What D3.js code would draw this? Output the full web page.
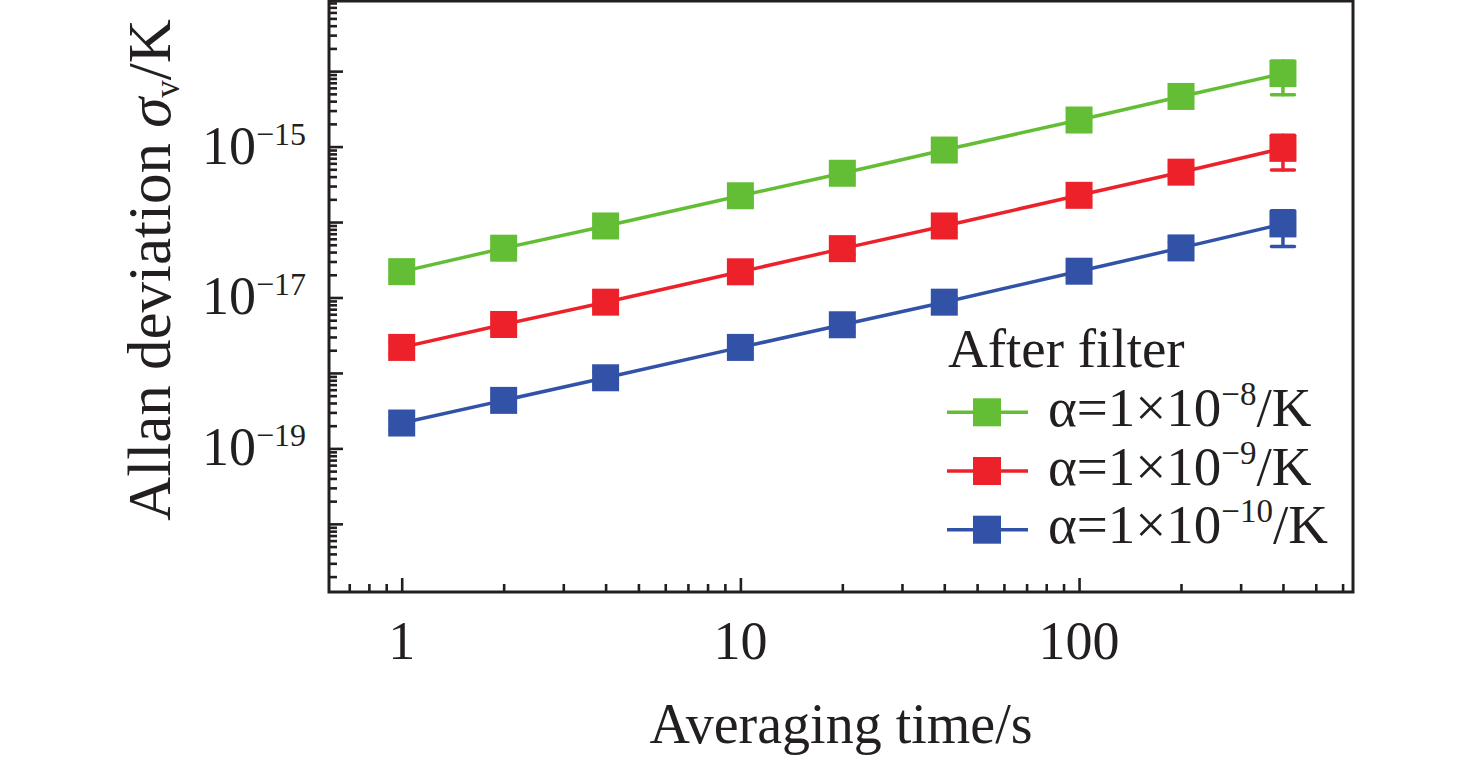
<!DOCTYPE html>
<html>
<head>
<meta charset="utf-8">
<script src="https://cdn.jsdelivr.net/npm/d3@7"></script>
<style>
body { margin: 0; background: #fff; }
text { font-family: "Liberation Serif", "Times New Roman", serif; fill: #231f20; }
</style>
</head>
<body>
<script>
// data
var tau = [1, 2, 4, 10, 20, 40, 100, 200, 400];

var green = [2.20e-17, 4.50e-17, 8.87e-17, 2.23e-16, 4.43e-16, 9.00e-16, 2.25e-15, 4.62e-15, 9.27e-15];
var red   = [2.18e-18, 4.39e-18, 8.67e-18, 2.19e-17, 4.44e-17, 8.87e-17, 2.26e-16, 4.58e-16, 9.48e-16];
var blue  = [2.17e-19, 4.33e-19, 8.63e-19, 2.18e-18, 4.35e-18, 8.67e-18, 2.23e-17, 4.54e-17, 9.44e-17];

var greenErr = [4.0e-18, 8.0e-18, 1.6e-17, 4.0e-17, 8.0e-17, 1.6e-16, 4.0e-16, 8.5e-16, 4.4e-15];
var redErr   = [4.0e-19, 8.0e-19, 1.6e-18, 4.0e-18, 8.0e-18, 1.6e-17, 4.0e-17, 8.5e-17, 4.6e-16];
var blueErr  = [4.0e-20, 8.0e-20, 1.6e-19, 4.0e-19, 8.0e-19, 1.6e-18, 4.0e-18, 8.5e-18, 4.7e-17];

var legendTitle = "After filter";
var legendExp = ["\u22128", "\u22129", "\u221210"];
var colors = ["#63be35", "#ec2129", "#3152a6"];

var xTickLabels = [1, 10, 100];
var yLabelExp = [-19, -17, -15];

// set up svg
var W = 1476, H = 760;
var pLeft = 329, pRight = 1353, pTop = 1, pBottom = 592;

var svg = d3.select("body")
  .append("svg")
  .attr("width", W)
  .attr("height", H);

var x = d3.scaleLog().domain([0.61, 644]).range([pLeft, pRight]);
var y = d3.scaleLog().domain([1.25e-21, 8.5e-14]).range([pBottom, pTop]);

// tick values
var xMajor = [1, 10, 100];
var xMinor = [];
[0.1, 1, 10, 100].forEach(function(d) {
  for (var k = 2; k <= 9; k++) {
    var v = d * k;
    if (v > 0.61 && v < 644) xMinor.push(v);
  }
});
var yMajor = [], yMinor = [];
for (var e = -21; e <= -14; e++) {
  var b = Math.pow(10, e);
  if (b >= 1.25e-21 && b <= 8.5e-14) yMajor.push(b);
  for (var k = 2; k <= 9; k++) {
    var v = k * b;
    if (v > 1.25e-21 && v < 8.5e-14) yMinor.push(v);
  }
}

function styleAxis(g) {
  g.select(".domain").remove();
  g.selectAll("line").attr("stroke", "#231f20").attr("stroke-width", 2.6);
  g.selectAll("text").remove();
}

svg.append("g")
  .attr("transform", "translate(0," + pBottom + ")")
  .call(d3.axisBottom(x).tickValues(xMajor).tickSize(-14))
  .call(styleAxis);
svg.append("g")
  .attr("transform", "translate(0," + pBottom + ")")
  .call(d3.axisBottom(x).tickValues(xMinor).tickSize(-8))
  .call(styleAxis);
svg.append("g")
  .attr("transform", "translate(" + pLeft + ",0)")
  .call(d3.axisLeft(y).tickValues(yMajor).tickSize(-14))
  .call(styleAxis);
svg.append("g")
  .attr("transform", "translate(" + pLeft + ",0)")
  .call(d3.axisLeft(y).tickValues(yMinor).tickSize(-8))
  .call(styleAxis);

// frame
svg.append("rect")
  .attr("x", pLeft)
  .attr("y", pTop)
  .attr("width", pRight - pLeft)
  .attr("height", pBottom - pTop)
  .attr("fill", "none")
  .attr("stroke", "#231f20")
  .attr("stroke-width", 3);

// tick labels
svg.selectAll(".xlab")
  .data(xTickLabels)
  .enter()
  .append("text")
  .attr("class", "xlab")
  .attr("x", function(d) { return x(d); })
  .attr("y", 659)
  .attr("text-anchor", "middle")
  .attr("font-size", 54)
  .text(function(d) { return d; });

var ylab = svg.selectAll(".ylab")
  .data(yLabelExp)
  .enter()
  .append("text")
  .attr("class", "ylab")
  .attr("x", 306)
  .attr("y", function(d) { return y(Math.pow(10, d)) + 17; })
  .attr("text-anchor", "end")
  .attr("font-size", 54);
ylab.append("tspan").text("10");
ylab.append("tspan")
  .attr("dy", -19)
  .attr("font-size", 32)
  .text(function(d) { return "\u2212" + Math.abs(d); });

// axis titles
svg.append("text")
  .attr("x", (pLeft + pRight) / 2)
  .attr("y", 743)
  .attr("text-anchor", "middle")
  .attr("font-size", 56)
  .text("Averaging time/s");

var yt = svg.append("text")
  .attr("transform", "translate(170,270) rotate(-90)")
  .attr("text-anchor", "middle")
  .attr("font-size", 61);
yt.append("tspan").text("Allan deviation ");
yt.append("tspan").attr("font-style", "italic").text("\u03c3");
yt.append("tspan").attr("font-size", 35).attr("dy", 9).text("v");
yt.append("tspan").attr("dy", -9).text("/K");

// series
var series = [
  { values: green, err: greenErr, color: colors[0] },
  { values: red, err: redErr, color: colors[1] },
  { values: blue, err: blueErr, color: colors[2] }
];

var line = d3.line()
  .x(function(d) { return x(d[0]); })
  .y(function(d) { return y(d[1]); });

var sq = 27;

series.forEach(function(s) {
  var pts = tau.map(function(t, i) { return [t, s.values[i], s.err[i]]; });
  var g = svg.append("g");

  g.append("path")
    .datum(pts)
    .attr("d", line)
    .attr("fill", "none")
    .attr("stroke", s.color)
    .attr("stroke-width", 3.5);

  // error bars
  var eb = g.selectAll(".eb")
    .data(pts)
    .enter()
    .append("g")
    .attr("stroke", s.color)
    .attr("stroke-width", 3.5)
    .attr("stroke-linecap", "round");
  eb.append("line")
    .attr("x1", function(d) { return x(d[0]); })
    .attr("x2", function(d) { return x(d[0]); })
    .attr("y1", function(d) { return y(d[1] + d[2]); })
    .attr("y2", function(d) { return y(d[1] - d[2]); });
  eb.append("line")
    .attr("x1", function(d) { return x(d[0]) - sq / 2 + 2; })
    .attr("x2", function(d) { return x(d[0]) + sq / 2 - 2; })
    .attr("y1", function(d) { return y(d[1] - d[2]); })
    .attr("y2", function(d) { return y(d[1] - d[2]); });
  eb.append("line")
    .attr("x1", function(d) { return x(d[0]) - sq / 2 + 2; })
    .attr("x2", function(d) { return x(d[0]) + sq / 2 - 2; })
    .attr("y1", function(d) { return y(d[1] + d[2]); })
    .attr("y2", function(d) { return y(d[1] + d[2]); });

  g.selectAll(".pt")
    .data(pts)
    .enter()
    .append("rect")
    .attr("x", function(d) { return x(d[0]) - sq / 2; })
    .attr("y", function(d) { return y(d[1]) - sq / 2; })
    .attr("width", sq)
    .attr("height", sq)
    .attr("fill", s.color);
});

// legend
svg.append("text")
  .attr("x", 948)
  .attr("y", 367)
  .attr("font-size", 55)
  .text(legendTitle);

var lg = svg.selectAll(".lg")
  .data(legendExp)
  .enter()
  .append("g")
  .attr("transform", function(d, i) { return "translate(0," + (i * 58.7) + ")"; });

lg.append("line")
  .attr("x1", 947)
  .attr("x2", 1028)
  .attr("y1", 412.3)
  .attr("y2", 412.3)
  .attr("stroke", function(d, i) { return colors[i]; })
  .attr("stroke-width", 3.5);
lg.append("rect")
  .attr("x", 987 - 14)
  .attr("y", 412.3 - 14)
  .attr("width", 28)
  .attr("height", 28)
  .attr("fill", function(d, i) { return colors[i]; });

var lt = lg.append("text")
  .attr("x", 1048)
  .attr("y", 426)
  .attr("font-size", 55);
lt.append("tspan").text("\u03b1=1\u00d710");
lt.append("tspan")
  .attr("dy", -21)
  .attr("font-size", 33)
  .text(function(d) { return d; });
lt.append("tspan")
  .attr("dy", 21)
  .text("/K");
</script>
</body>
</html>
